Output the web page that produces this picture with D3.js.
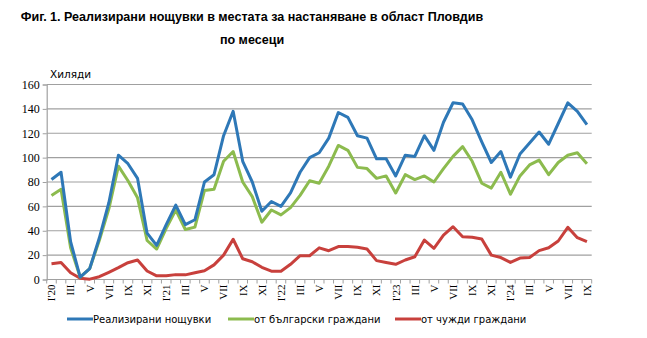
<!DOCTYPE html>
<html>
<head>
<meta charset="utf-8">
<script src="https://cdn.jsdelivr.net/npm/d3@7/dist/d3.min.js"></script>
<style>
  html, body { margin: 0; padding: 0; background: #fff; }
  svg { display: block; }
</style>
</head>
<body>
<svg id="chart" width="647" height="338"></svg>
<script>
// Monthly overnight stays, thousands, Jan 2020 – Sep 2024
const months = d3.range(57);
const tickLabels = ["I'20","III","V","VII","IX","XI",
                    "I'21","III","V","VII","IX","XI",
                    "I'22","III","V","VII","IX","XI",
                    "I'23","III","V","VII","IX","XI",
                    "I'24","III","V","VII","IX"];

const total = [
  82, 88, 31, 2, 9, 34, 63, 102, 95, 83, 38, 28,
  45, 61, 45, 49, 80, 86, 118, 138, 97, 80, 56, 64,
  60, 71, 88, 100, 104, 116, 137, 133, 118, 116, 99, 99,
  85, 102, 101, 118, 106, 129, 145, 144, 131, 113, 96, 105,
  84, 103, 112, 121, 111, 128, 145, 138, 127
];
const bulgarian = [
  69, 74, 26, 2, 9, 32, 58, 93, 81, 67, 32, 25,
  42, 57, 41, 43, 73, 74, 97, 105, 80, 68, 47, 57,
  53, 59, 69, 81, 79, 93, 110, 106, 92, 91, 83, 85,
  71, 86, 82, 85, 80, 91, 101, 109, 97, 79, 75, 88,
  70, 85, 94, 98, 86, 96, 102, 104, 95
];
const foreign = [
  13, 14, 5.5, 1, 0.3, 2.3, 5.9, 9.7, 13.8, 16, 7, 3,
  3, 4, 3.8, 5.6, 7.2, 12, 20, 33, 17, 14.6, 10, 6.8,
  6.8, 12.5, 19.5, 19.5, 26, 23.6, 27, 27, 26.4, 25, 15.5, 14,
  12.5, 16, 18.7, 32.4, 25.6, 36.5, 43.3, 35.1, 34.6, 33.2, 20, 18,
  14, 17.6, 18, 23.7, 26, 31.6, 42.8, 34.3, 31
];
const yTicks = [0, 20, 40, 60, 80, 100, 120, 140, 160];

const series = [
  { name: "Реализирани нощувки", values: total, color: "#2e78b7" },
  { name: "от български граждани", values: bulgarian, color: "#8cbb4e" },
  { name: "от чужди граждани", values: foreign, color: "#c8403c" }
];

const svg = d3.select("#chart");
const plot = { left: 46.7, right: 591.7, top: 84.5, bottom: 279.5 };

const x = d3.scaleBand().domain(months).range([plot.left, plot.right]);
const y = d3.scaleLinear().domain([0, 160]).range([plot.bottom, plot.top]);
const cx = i => x(i) + x.bandwidth() / 2;

// Title
const title = svg.append("g")
  .attr("font-family", "'Liberation Sans', Arial, sans-serif")
  .attr("font-weight", "bold")
  .attr("fill", "#000");
const t1 = title.append("text")
  .attr("x", 252).attr("y", 21).attr("text-anchor", "middle")
  .attr("font-size", 12)
  .text("Фиг. 1. Реализирани нощувки в местата за настаняване в област Пловдив");
const t2 = title.append("text")
  .attr("x", 252).attr("y", 44).attr("text-anchor", "middle")
  .attr("font-size", 12)
  .text("по месеци");
// fit the first title line to its box width
const w1 = t1.node().getComputedTextLength();
const fs = 12 * 463 / w1;
t1.attr("font-size", fs);
t2.attr("font-size", fs);

// Unit label
svg.append("text")
  .attr("x", 50).attr("y", 78)
  .attr("font-family", "'DejaVu Sans', Verdana, sans-serif")
  .attr("font-size", 10.5)
  .attr("fill", "#000")
  .text("Хиляди");

// Horizontal gridlines
svg.append("g")
  .selectAll("line")
  .data(yTicks.filter(d => d > 0))
  .join("line")
  .attr("x1", plot.left).attr("x2", plot.right)
  .attr("y1", d => y(d)).attr("y2", d => y(d))
  .attr("stroke", "#a0a0a0").attr("stroke-width", 1.2);

// Y axis
const yAxis = svg.append("g")
  .attr("transform", `translate(${plot.left},0)`)
  .call(d3.axisLeft(y).tickValues(yTicks).tickSize(4).tickPadding(3));
yAxis.select(".domain").attr("stroke", "#a0a0a0").attr("stroke-width", 1.2);
yAxis.selectAll(".tick line").attr("stroke", "#a0a0a0");
yAxis.selectAll("text")
  .attr("font-family", "'Liberation Serif', 'Times New Roman', serif")
  .attr("font-size", 12).attr("fill", "#000");

// X axis: ticks on every month boundary, labels every other month
const boundaries = d3.range(58).map(i => plot.left + i * x.step());
const xg = svg.append("g");
xg.append("line")
  .attr("x1", plot.left).attr("x2", plot.right)
  .attr("y1", plot.bottom).attr("y2", plot.bottom)
  .attr("stroke", "#a0a0a0").attr("stroke-width", 1.2);
xg.selectAll("line.tk")
  .data(boundaries)
  .join("line").attr("class", "tk")
  .attr("x1", d => d).attr("x2", d => d)
  .attr("y1", plot.bottom).attr("y2", plot.bottom + 4)
  .attr("stroke", "#a0a0a0");
xg.selectAll("text")
  .data(tickLabels)
  .join("text")
  .attr("transform", (d, k) => `translate(${cx(k * 2)},${plot.bottom + 5}) rotate(-90)`)
  .attr("text-anchor", "end")
  .attr("dy", "0.35em")
  .attr("font-family", "'Liberation Serif', 'Times New Roman', serif")
  .attr("font-size", 11)
  .attr("fill", "#000")
  .text(d => d);

// Lines
const line = d3.line().x((d, i) => cx(i)).y(d => y(d));
svg.append("g")
  .selectAll("path")
  .data(series.slice().reverse())
  .join("path")
  .attr("d", s => line(s.values))
  .attr("fill", "none")
  .attr("stroke", s => s.color)
  .attr("stroke-width", 3)
  .attr("stroke-linejoin", "round");

// Legend
const legendX = [67, 228, 395];
const lg = svg.append("g")
  .selectAll("g")
  .data(series)
  .join("g")
  .attr("transform", (s, i) => `translate(${legendX[i]},319)`);
lg.append("line")
  .attr("x1", 0).attr("x2", 26).attr("y1", 0).attr("y2", 0)
  .attr("stroke", s => s.color).attr("stroke-width", 3);
lg.append("text")
  .attr("x", 26).attr("dy", "0.35em")
  .attr("font-family", "'DejaVu Sans', Verdana, sans-serif")
  .attr("font-size", 10)
  .attr("fill", "#000")
  .text(s => s.name);
</script>
</body>
</html>
